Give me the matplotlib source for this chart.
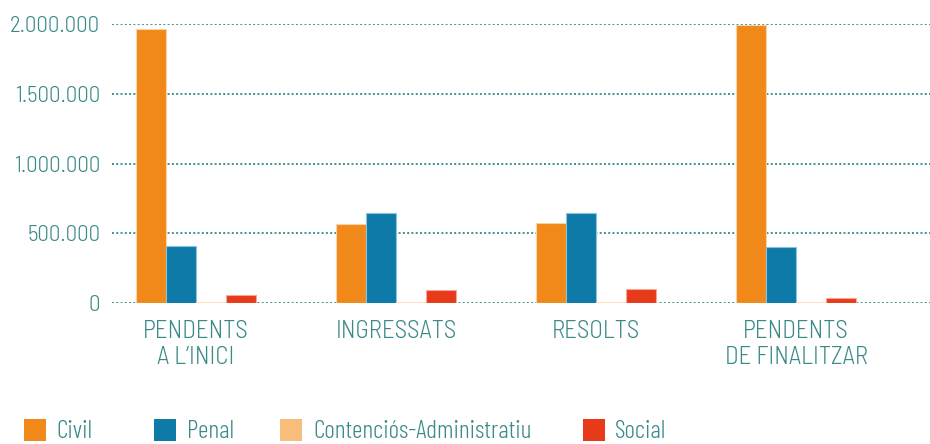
import matplotlib
matplotlib.use('Agg')
import matplotlib.pyplot as plt
import numpy as np
from matplotlib.patches import Rectangle
from matplotlib.ticker import FuncFormatter

categories = ["PENDENTS\nA L\u2019INICI", "INGRESSATS", "RESOLTS", "PENDENTS\nDE FINALITZAR"]
series = ["Civil", "Penal", "Contenciós-Administratiu", "Social"]
civil = [1965000, 565000, 577000, 1995000]
penal = [412000, 644000, 644000, 401000]
contencios = [9000, 9000, 9000, 9000]
social = [59000, 95000, 100000, 40000]
yticks = [0, 500000, 1000000, 1500000, 2000000]

colors = ['#F0891A', '#0E7AA8', '#F8BD7A', '#E63A1A']
edges = ['#F9D3A8', '#8CC3DA', '#FCE0C0', '#F6A894']
teal = '#3A8A88'

plt.rcParams['font.family'] = ['Barlow Semi Condensed', 'DejaVu Sans']
plt.rcParams['font.weight'] = 300

W, H = 930, 444
fig = plt.figure(figsize=(W / 100, H / 100), dpi=100)
ax = fig.add_axes([112 / W, 1 - 303.3 / H, 1 - 112 / W, (303.3 - 24) / H])

x = np.arange(len(categories))
w = 0.15
for i, vals in enumerate([civil, penal, contencios, social]):
    ax.bar(x + (i - 1.5) * w, vals, width=w, color=colors[i], edgecolor=edges[i],
           linewidth=0.8, zorder=3)

ax.set_ylim(0, 2000000)
ax.set_xlim(-0.42, 3.67)
ax.set_yticks(yticks)
ax.yaxis.set_major_formatter(FuncFormatter(lambda v, p: f"{int(v):,}".replace(',', '.')))
ax.set_xticks(x)
ax.set_xticklabels(categories, linespacing=1.18, fontsize=18)
ax.tick_params(axis='both', length=0, colors=teal)
ax.tick_params(axis='y', pad=8.5, labelsize=16.5)
ax.tick_params(axis='x', pad=12)
ax.grid(axis='y', color='#3E9290', linestyle=(0, (1, 1.2)), linewidth=1.4, zorder=0)
ax.set_axisbelow(True)
for s in ax.spines.values():
    s.set_visible(False)

# legend: squares + labels along the bottom edge
leg_sq = [24, 154, 280, 583]
leg_tx = [56, 187, 313, 615]
for c, lab, sx, tx in zip(colors, series, leg_sq, leg_tx):
    fig.patches.append(Rectangle((sx / W, 1 - 441 / H), 22 / W, 22 / H, transform=fig.transFigure,
                                 facecolor=c, edgecolor='none'))
    fig.text(tx / W, 1 - 438 / H, lab, color=teal, fontsize=18.5, ha='left', va='baseline',
             family=['Barlow Condensed', 'DejaVu Sans'])

fig.savefig('out.png', dpi=100, facecolor='white')
